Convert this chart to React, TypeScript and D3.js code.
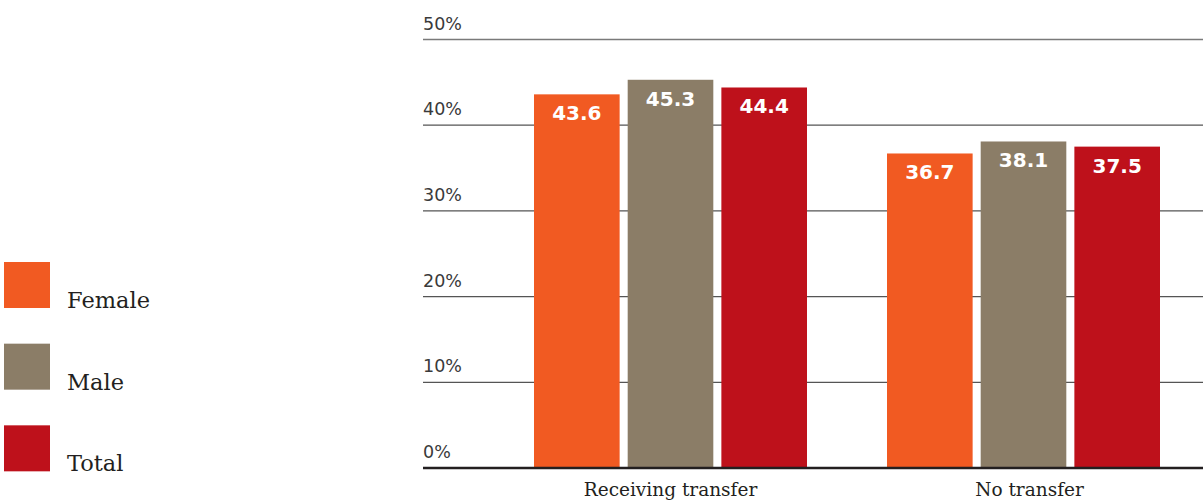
import * as d3 from 'd3';
import React from 'react';

const categories = ['Receiving transfer', 'No transfer'];
const series = ['Female', 'Male', 'Total'];
const female = [43.6, 36.7];
const male = [45.3, 38.1];
const total = [44.4, 37.5];
const yTicks = [0, 10, 20, 30, 40, 50];
const colors = ['#F15A22', '#8B7D67', '#BE111B'];

const W = 1203;
const H = 500;

const App: React.FC = () => {
  const values = [female, male, total];

  const y = d3.scaleLinear().domain([0, 50]).range([468, 39.5]);
  const x0 = d3.scaleBand<string>().domain(categories).range([494, 1200]).padding(0);
  const x1 = d3.scaleBand<string>()
    .domain(series)
    .range([40, 313])
    .paddingInner(0.086);

  const legendY = d3.scaleBand<string>().domain(series).range([262, 507]);

  return (
    <svg width={W} height={H} style={{ position: 'absolute', left: 0, top: 0 }}>
      <rect width={W} height={H} fill="#fff" />
      {yTicks.map(t => (
        <g key={t}>
          {t > 0 && (
            <line x1={423} x2={W} y1={y(t)} y2={y(t)} stroke={t === 50 ? '#7a7a7a' : '#555'} strokeWidth={1.3} />
          )}
          <text x={423} y={y(t) - 10} fontFamily="'DejaVu Sans', sans-serif" fontSize={17.5} fill="#3a3a3a">
            {t}%
          </text>
        </g>
      ))}

      {categories.map((c, ci) => (
        <g key={c} transform={`translate(${x0(c)},0)`}>
          {series.map((s, si) => {
            const v = values[si][ci];
            const bx = x1(s)!;
            const bw = x1.bandwidth();
            return (
              <g key={s}>
                <rect x={bx} y={y(v)} width={bw} height={y(0) - y(v)} fill={colors[si]} />
                <text
                  x={bx + bw / 2}
                  y={y(v) + 26}
                  textAnchor="middle"
                  fontFamily="'DejaVu Sans', Verdana, sans-serif"
                  fontWeight="bold"
                  fontSize={20}
                  fill="#fff"
                >
                  {v.toFixed(1)}
                </text>
              </g>
            );
          })}
          <text
            x={x0.bandwidth() / 2 + (ci === 0 ? 0 : 6)}
            y={496}
            textAnchor="middle"
            fontFamily="'DejaVu Serif', serif"
            fontSize={18.5}
            fill="#231f20"
          >
            {c}
          </text>
        </g>
      ))}

      <line x1={423} x2={W} y1={y(0)} y2={y(0)} stroke="#231f20" strokeWidth={2.5} />

      {series.map((s, si) => (
        <g key={s} transform={`translate(4,${legendY(s)})`}>
          <rect width={46} height={46} fill={colors[si]} />
          <text x={63} y={46} fontFamily="'DejaVu Serif', serif" fontSize={22.5} fill="#231f20">
            {s}
          </text>
        </g>
      ))}
    </svg>
  );
};

export default App;
